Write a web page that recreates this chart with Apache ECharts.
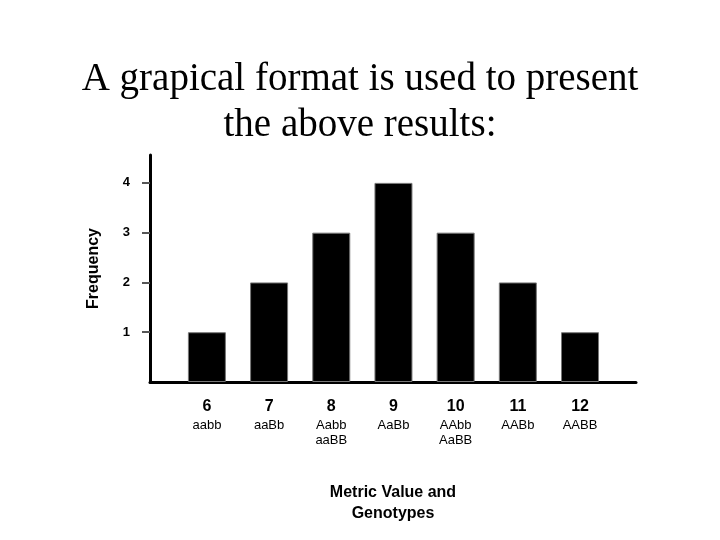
<!DOCTYPE html>
<html><head><meta charset="utf-8">
<script src="https://cdn.jsdelivr.net/npm/echarts@6/dist/echarts.min.js"></script>
<style>html,body{margin:0;background:#fff}#c{width:720px;height:540px}</style>
</head><body><div id="c"></div>
<script>
const metricValues = [6, 7, 8, 9, 10, 11, 12];
const genotypes = ['aabb', 'aaBb', 'Aabb\naaBB', 'AaBb', 'AAbb\nAaBB', 'AABb', 'AABB'];
const frequency = [1, 2, 3, 4, 3, 2, 1];
const yTicks = [1, 2, 3, 4];

const chart = echarts.init(document.getElementById('c'));
chart.setOption({
  backgroundColor: '#fff',
  animation: false,
  title: {
    text: 'A grapical format is used to present\nthe above results:',
    left: 'center', top: 52,
    textStyle: {fontFamily: 'Liberation Serif', fontWeight: 'normal', fontSize: 39, lineHeight: 46, color: '#000'}
  },
  grid: {left: 150, right: 84, top: 155, bottom: 158},
  xAxis: {
    type: 'value', min: 5.085, max: 12.9,
    splitLine: {show: false},
    axisLine: {lineStyle: {color: '#000', width: 3}},
    axisTick: {show: false},
    axisLabel: {
      customValues: metricValues,
      margin: 14,
      formatter: v => {
        const i = metricValues.indexOf(v);
        return '{n|' + v + '}\n{g|' + genotypes[i].split('\n').join('}\n{g|') + '}';
      },
      rich: {
        n: {fontFamily: 'Liberation Sans', fontWeight: 'bold', fontSize: 16, lineHeight: 22, color: '#000'},
        g: {fontFamily: 'Liberation Sans', fontSize: 13, lineHeight: 15, color: '#000'}
      }
    },
    name: 'Metric Value and\nGenotypes', nameLocation: 'middle', nameGap: 100,
    nameTextStyle: {fontFamily: 'Liberation Sans', fontWeight: 'bold', fontSize: 16, lineHeight: 21, color: '#000'}
  },
  yAxis: {
    type: 'value', min: 0, max: 4.56, interval: 1,
    splitLine: {show: false},
    axisLine: {show: true, lineStyle: {color: '#000', width: 3}},
    axisTick: {show: true, length: 8, customValues: yTicks, lineStyle: {color: '#555', width: 2}},
    axisLabel: {
      customValues: yTicks, margin: 20,
      fontFamily: 'Liberation Sans', fontWeight: 'bold', fontSize: 13, color: '#000'
    },
    name: 'Frequency', nameLocation: 'middle', nameGap: 48,
    nameTextStyle: {fontFamily: 'Liberation Sans', fontWeight: 'bold', fontSize: 16, color: '#000'}
  },
  series: [{
    type: 'bar', barWidth: 38,
    data: metricValues.map((m, i) => [m, frequency[i]]),
    itemStyle: {color: '#000', borderColor: '#777', borderWidth: 1}
  }]
});
</script></body></html>
